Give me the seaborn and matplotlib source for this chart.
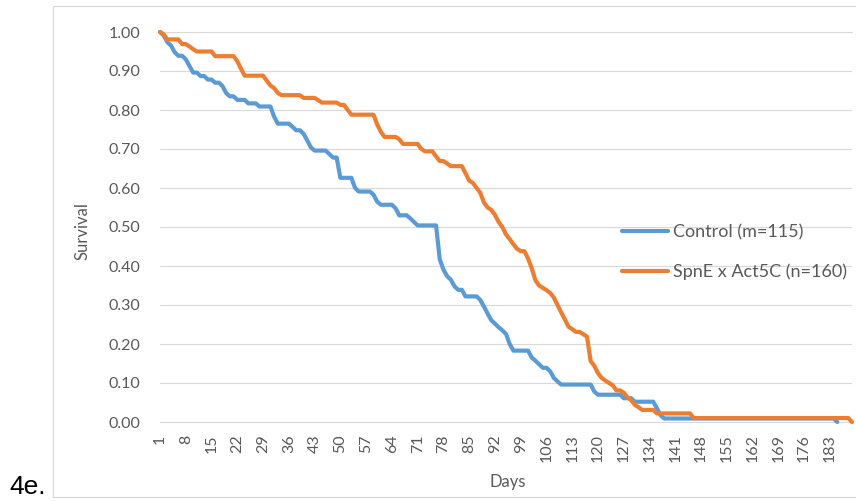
import matplotlib
matplotlib.use("Agg")
import matplotlib.pyplot as plt
import pandas as pd
import seaborn as sns
from matplotlib.patches import Rectangle

# Daily survival fraction, Control flies (days 1-185)
control_days = list(range(1, 186))
control_survival = [
    1.000, 0.991, 0.974, 0.965, 0.948, 0.939, 0.939, 0.930, 0.913, 0.896,
    0.896, 0.887, 0.887, 0.878, 0.878, 0.870, 0.870, 0.861, 0.843, 0.835,
    0.835, 0.826, 0.826, 0.826, 0.817, 0.817, 0.817, 0.809, 0.809, 0.809,
    0.809, 0.783, 0.765, 0.765, 0.765, 0.765, 0.757, 0.748, 0.748, 0.739,
    0.722, 0.704, 0.696, 0.696, 0.696, 0.696, 0.687, 0.678, 0.678, 0.626,
    0.626, 0.626, 0.626, 0.600, 0.591, 0.591, 0.591, 0.591, 0.583, 0.565,
    0.557, 0.557, 0.557, 0.557, 0.548, 0.530, 0.530, 0.530, 0.522, 0.513,
    0.504, 0.504, 0.504, 0.504, 0.504, 0.504, 0.417, 0.391, 0.374, 0.365,
    0.348, 0.339, 0.339, 0.322, 0.322, 0.322, 0.322, 0.313, 0.296, 0.278,
    0.261, 0.252, 0.243, 0.235, 0.226, 0.200, 0.183, 0.183, 0.183, 0.183,
    0.183, 0.165, 0.157, 0.148, 0.139, 0.139, 0.130, 0.113, 0.104, 0.096,
    0.096, 0.096, 0.096, 0.096, 0.096, 0.096, 0.096, 0.096, 0.078, 0.070,
    0.070, 0.070, 0.070, 0.070, 0.070, 0.070, 0.061, 0.061, 0.061, 0.052,
    0.052, 0.052, 0.052, 0.052, 0.052, 0.035, 0.017, 0.009, 0.009, 0.009,
    0.009, 0.009, 0.009, 0.009, 0.009, 0.009, 0.009, 0.009, 0.009, 0.009,
    0.009, 0.009, 0.009, 0.009, 0.009, 0.009, 0.009, 0.009, 0.009, 0.009,
    0.009, 0.009, 0.009, 0.009, 0.009, 0.009, 0.009, 0.009, 0.009, 0.009,
    0.009, 0.009, 0.009, 0.009, 0.009, 0.009, 0.009, 0.009, 0.009, 0.009,
    0.009, 0.009, 0.009, 0.009, 0.000,
]

# Daily survival fraction, SpnE x Act5C flies (days 1-189)
spne_days = list(range(1, 190))
spne_survival = [
    1.000, 0.994, 0.981, 0.981, 0.981, 0.981, 0.969, 0.969, 0.963, 0.956,
    0.950, 0.950, 0.950, 0.950, 0.950, 0.938, 0.938, 0.938, 0.938, 0.938,
    0.938, 0.925, 0.906, 0.888, 0.888, 0.888, 0.888, 0.888, 0.888, 0.875,
    0.863, 0.856, 0.844, 0.838, 0.838, 0.838, 0.838, 0.838, 0.838, 0.831,
    0.831, 0.831, 0.831, 0.825, 0.819, 0.819, 0.819, 0.819, 0.819, 0.813,
    0.813, 0.800, 0.788, 0.788, 0.788, 0.788, 0.788, 0.788, 0.788, 0.763,
    0.744, 0.731, 0.731, 0.731, 0.731, 0.725, 0.713, 0.713, 0.713, 0.713,
    0.713, 0.700, 0.694, 0.694, 0.694, 0.681, 0.669, 0.669, 0.663, 0.656,
    0.656, 0.656, 0.656, 0.638, 0.619, 0.613, 0.600, 0.588, 0.563, 0.550,
    0.544, 0.531, 0.513, 0.500, 0.481, 0.469, 0.456, 0.444, 0.438, 0.438,
    0.419, 0.394, 0.363, 0.350, 0.344, 0.338, 0.331, 0.319, 0.300, 0.281,
    0.263, 0.244, 0.238, 0.231, 0.231, 0.225, 0.219, 0.156, 0.144, 0.125,
    0.113, 0.106, 0.100, 0.094, 0.081, 0.081, 0.075, 0.063, 0.056, 0.044,
    0.038, 0.031, 0.031, 0.031, 0.031, 0.022, 0.022, 0.022, 0.022, 0.022,
    0.022, 0.022, 0.022, 0.022, 0.022, 0.010, 0.010, 0.010, 0.010, 0.010,
    0.010, 0.010, 0.010, 0.010, 0.010, 0.010, 0.010, 0.010, 0.010, 0.010,
    0.010, 0.010, 0.010, 0.010, 0.010, 0.010, 0.010, 0.010, 0.010, 0.010,
    0.010, 0.010, 0.010, 0.010, 0.010, 0.010, 0.010, 0.010, 0.010, 0.010,
    0.010, 0.010, 0.010, 0.010, 0.010, 0.010, 0.010, 0.010, 0.000,
]

series_names = ["Control (m=115)", "SpnE x Act5C (n=160)"]
series_colors = ["#5B9BD5", "#ED7D31"]
y_ticks = [0.0, 0.1, 0.2, 0.3, 0.4, 0.5, 0.6, 0.7, 0.8, 0.9, 1.0]
x_ticks = list(range(1, 184, 7))

df = pd.concat([
    pd.DataFrame({"Day": control_days, "Survival": control_survival,
                  "Series": series_names[0]}),
    pd.DataFrame({"Day": spne_days, "Survival": spne_survival,
                  "Series": series_names[1]}),
], ignore_index=True)

sns.set_theme(style="white")
plt.rcParams["font.family"] = ["Lato", "DejaVu Sans"]

W, H = 856, 501
fig = plt.figure(figsize=(W / 100, H / 100), dpi=100)
ax = fig.add_axes([160 / W, 1 - 422 / H, 692 / W, 390 / H])

sns.lineplot(data=df, x="Day", y="Survival", hue="Series",
             hue_order=series_names, palette=series_colors,
             estimator=None, errorbar=None, legend=False,
             linewidth=3.0, ax=ax)
for line in ax.lines:
    line.set_clip_on(False)
    line.set_solid_joinstyle("round")
    line.set_solid_capstyle("round")

ax.set_xlim(1, 189)
ax.set_ylim(0, 1.0)
ax.set_yticks(y_ticks)
ax.set_yticklabels([f"{v:.2f}" for v in y_ticks])
ax.set_xticks(x_ticks)
ax.set_xticklabels([str(d) for d in x_ticks], rotation=90)
ax.yaxis.grid(True, color="#D9D9D9", linewidth=0.8)
ax.xaxis.grid(False)
ax.set_axisbelow(True)
for side in ["top", "right", "left", "bottom"]:
    ax.spines[side].set_visible(False)
ax.axhline(0, color="#D9D9D9", linewidth=0.8, zorder=0, clip_on=False)
ax.axhline(1, color="#D9D9D9", linewidth=0.8, zorder=0, clip_on=False)

ax.tick_params(axis="both", length=0, colors="#595959", labelsize=11.5)
ax.tick_params(axis="x", pad=9)
ax.tick_params(axis="y", pad=14)

ax.set_xlabel("Days", fontsize=12, color="#595959")
ax.set_ylabel("Survival", fontsize=12, color="#595959")
ax.xaxis.set_label_coords((508 - 160) / 692, (422 - 482) / 390)
ax.xaxis.label.set_va("center")
ax.yaxis.set_label_coords((83 - 160) / 692, 0.49)
ax.yaxis.label.set_va("center")

leg = ax.legend(handles=ax.lines[:2], labels=series_names,
                loc="center left", bbox_to_anchor=(622 / W, 1 - 252 / H),
                bbox_transform=fig.transFigure, frameon=False,
                fontsize=13, handlelength=2.55, handletextpad=0.25,
                labelspacing=1.3, borderpad=0, borderaxespad=0)
for t in leg.get_texts():
    t.set_color("#595959")
for h in leg.legend_handles:
    h.set_linewidth(3.0)
    h.set_solid_capstyle("round")

# Light outer border of the chart area
fig.add_artist(Rectangle((53 / W, 1 - 497 / H), 1.0, (497 - 6) / H,
                         transform=fig.transFigure, fill=False,
                         edgecolor="#D9D9D9", linewidth=0.9))

fig.text(9 / W, 1 - 494 / H, "4e.", fontsize=19, color="black",
         family=["Liberation Sans", "DejaVu Sans"], va="baseline", ha="left")

fig.savefig("out.png", dpi=100)
